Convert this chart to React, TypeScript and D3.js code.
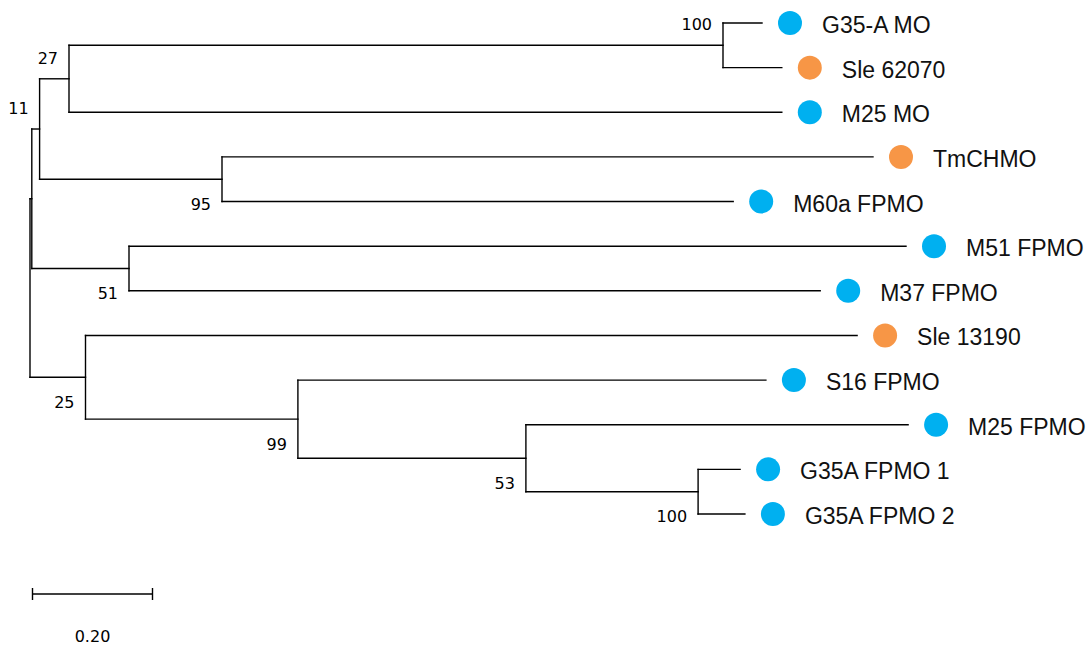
import React from "react";
import * as d3 from "d3";

// ---- Data ----
const tipNames = [
  "G35-A MO",
  "Sle 62070",
  "M25 MO",
  "TmCHMO",
  "M60a FPMO",
  "M51 FPMO",
  "M37 FPMO",
  "Sle 13190",
  "S16 FPMO",
  "M25 FPMO",
  "G35A FPMO 1",
  "G35A FPMO 2",
];
const tipGroups = ["A", "B", "A", "B", "A", "A", "A", "B", "A", "A", "A", "A"];

const nodeIds = [
  "root", "nA", "n11", "n27", "n100a", "G35-A MO", "Sle 62070", "M25 MO",
  "n95", "TmCHMO", "M60a FPMO", "n51", "M51 FPMO", "M37 FPMO",
  "n25", "Sle 13190", "n99", "S16 FPMO", "n53", "M25 FPMO", "n100b",
  "G35A FPMO 1", "G35A FPMO 2",
];
const parentIds = [
  null, "root", "nA", "n11", "n27", "n100a", "n100a", "n27",
  "n11", "n95", "n95", "nA", "n51", "n51",
  "root", "n25", "n25", "n99", "n99", "n53", "n53",
  "n100b", "n100b",
];
const branchLengths = [
  0, 0.003, 0.013, 0.049, 1.09, 0.065, 0.098, 1.188,
  0.304, 1.085, 0.852, 0.162, 1.295, 1.152,
  0.0925, 1.286, 0.354, 0.78, 0.38, 0.637, 0.287,
  0.07, 0.078,
];

const bootNodes = ["n100a", "n27", "n11", "n95", "n51", "n25", "n99", "n53", "n100b"];
const bootValues = [100, 27, 11, 95, 51, 25, 99, 53, 100];
const bootSide = ["above", "above", "above", "below", "below", "below", "below", "below", "below"];

const scaleBarValue = 0.2;
const scaleBarLabel = "0.20";

const groupColors: Record<string, string> = { A: "#00B0F0", B: "#F79646" };

export default function App() {
  const W = 1090;
  const H = 645;

  const rows = nodeIds.map((id, i) => ({ id, parentId: parentIds[i], bl: branchLengths[i] }));
  const root = d3
    .stratify<any>()
    .id((d: any) => d.id)
    .parentId((d: any) => d.parentId)(rows);

  const x = d3.scaleLinear().domain([0, 1]).range([30, 630]);
  const y = d3.scalePoint<string>().domain(tipNames).range([23, 514]);

  const depth = new Map<string, number>();
  const ypos = new Map<string, number>();
  root.eachBefore((n: any) => {
    depth.set(n.id, (n.parent ? depth.get(n.parent.id)! : 0) + n.data.bl);
  });
  root.eachAfter((n: any) => {
    if (!n.children) ypos.set(n.id, y(n.id)!);
    else {
      const c = n.children;
      ypos.set(n.id, (ypos.get(c[0].id)! + ypos.get(c[c.length - 1].id)!) / 2);
    }
  });

  const segs: { x1: number; y1: number; x2: number; y2: number }[] = [];
  root.each((n: any) => {
    const nx = x(depth.get(n.id)!);
    const ny = ypos.get(n.id)!;
    if (n.parent) {
      segs.push({ x1: x(depth.get(n.parent.id)!), y1: ny, x2: nx, y2: ny });
    }
    if (n.children) {
      const c = n.children;
      segs.push({ x1: nx, y1: ypos.get(c[0].id)!, x2: nx, y2: ypos.get(c[c.length - 1].id)! });
    }
  });

  const leaves = root.leaves();
  const sb = d3.scaleLinear().domain([0, 1]).range([32.5, 632.5]);
  const sbY = 594;

  return (
    <svg width={W} height={H} style={{ position: "absolute", left: 0, top: 0, background: "#fff" }}>
      <g stroke="#000" strokeWidth={1.4} strokeLinecap="square" fill="none">
        {segs.map((s, i) => (
          <line key={i} x1={s.x1} y1={s.y1} x2={s.x2} y2={s.y2} />
        ))}
      </g>
      {leaves.map((l: any) => {
        const i = tipNames.indexOf(l.id);
        const tx = x(depth.get(l.id)!);
        const ty = ypos.get(l.id)!;
        return (
          <g key={l.id}>
            <circle cx={tx + 28} cy={ty} r={12} fill={groupColors[tipGroups[i]]} />
            <text
              x={tx + 60}
              y={ty + 10}
              fontFamily="'Liberation Sans', Arial, sans-serif"
              fontSize={23}
              fill="#111"
            >
              {tipNames[i]}
            </text>
          </g>
        );
      })}
      {bootNodes.map((id, i) => {
        const nx = x(depth.get(id)!);
        const ny = ypos.get(id)!;
        const cy = bootSide[i] === "above" ? ny - 21 : ny + 25;
        return (
          <text
            key={id}
            x={nx - 11}
            y={cy + 5.8}
            textAnchor="end"
            fontFamily="'DejaVu Sans', sans-serif"
            fontSize={16}
            fill="#000"
          >
            {bootValues[i]}
          </text>
        );
      })}
      <g stroke="#000" strokeWidth={1.4}>
        <line x1={sb(0)} y1={sbY} x2={sb(scaleBarValue)} y2={sbY} />
        <line x1={sb(0)} y1={sbY - 6} x2={sb(0)} y2={sbY + 6} />
        <line x1={sb(scaleBarValue)} y1={sbY - 6} x2={sb(scaleBarValue)} y2={sbY + 6} />
      </g>
      <text
        x={(sb(0) + sb(scaleBarValue)) / 2}
        y={642}
        textAnchor="middle"
        fontFamily="'DejaVu Sans', sans-serif"
        fontSize={16}
        fill="#000"
      >
        {scaleBarLabel}
      </text>
    </svg>
  );
}
